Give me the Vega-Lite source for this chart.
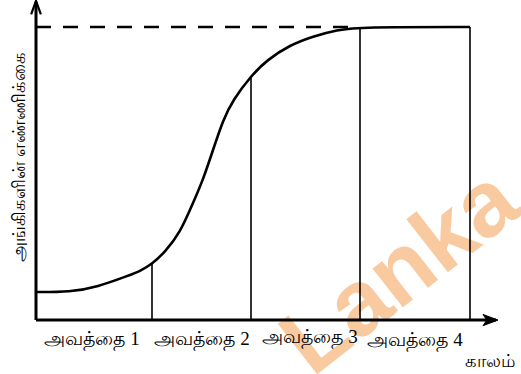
{
  "$schema": "https://vega.github.io/schema/vega-lite/v6.json",
  "width": 521,
  "height": 374,
  "padding": 0,
  "autosize": {"type": "none"},
  "background": "white",
  "config": {"view": {"stroke": null}},
  "datasets": {
    "curve": [
      {"t": 0, "N": 9.56}, {"t": 3.4, "N": 9.56}, {"t": 6.1, "N": 11.26}, {"t": 9.4, "N": 15.36},
      {"t": 10.4, "N": 16.72}, {"t": 11.6, "N": 19.11}, {"t": 12.9, "N": 23.21}, {"t": 14.4, "N": 29.69},
      {"t": 15.7, "N": 39.93}, {"t": 16.7, "N": 47.78}, {"t": 17.7, "N": 58.02}, {"t": 18.7, "N": 68.26},
      {"t": 19.7, "N": 75.09}, {"t": 21.5, "N": 83.3}, {"t": 23.1, "N": 88.74}, {"t": 25.4, "N": 93.86},
      {"t": 27.7, "N": 96.8}, {"t": 30.1, "N": 99.0}, {"t": 32.4, "N": 100}, {"t": 43.4, "N": 100}
    ],
    "stages": [
      {"t": 11.6, "N": 0, "N2": 19.11},
      {"t": 21.5, "N": 0, "N2": 83.3},
      {"t": 32.4, "N": 0, "N2": 100},
      {"t": 43.4, "N": 0, "N2": 100}
    ],
    "axes": [
      {"t": 0, "N": 0, "t2": 46, "N2": 0},
      {"t": 0, "N": 0, "t2": 0, "N2": 108.6}
    ],
    "labels": [
      {"t": 5.6, "N": -6.6, "label": "அவத்தை 1"},
      {"t": 16.6, "N": -6.6, "label": "அவத்தை 2"},
      {"t": 27.4, "N": -5.8, "label": "அவத்தை 3"},
      {"t": 37.9, "N": -6.8, "label": "அவத்தை 4"}
    ]
  },
  "layer": [
    {
      "data": {"values": [{"t": 36.5, "N": 16.0, "label": "Lanka"}]},
      "mark": {"type": "text", "font": "Liberation Sans", "fontWeight": "bold", "fontSize": 93, "angle": 322, "color": "#F9C9A0", "align": "center", "baseline": "middle"},
      "encoding": {
        "x": {"field": "t", "type": "quantitative", "scale": {"domain": [-3.6, 48.5], "nice": false, "zero": false}, "axis": null},
        "y": {"field": "N", "type": "quantitative", "scale": {"domain": [-18.4, 109.2], "nice": false, "zero": false}, "axis": null},
        "text": {"field": "label"}
      }
    },
    {
      "data": {"values": [{"t": 0, "N": 100, "t2": 32.4}]},
      "mark": {"type": "rule", "strokeWidth": 2.5, "strokeDash": [15, 12], "color": "black"},
      "encoding": {
        "x": {"field": "t", "type": "quantitative", "scale": {"domain": [-3.6, 48.5], "nice": false, "zero": false}, "axis": null},
        "x2": {"field": "t2"},
        "y": {"field": "N", "type": "quantitative", "scale": {"domain": [-18.4, 109.2], "nice": false, "zero": false}, "axis": null}
      }
    },
    {
      "data": {"name": "stages"},
      "mark": {"type": "rule", "strokeWidth": 1.6, "color": "black"},
      "encoding": {
        "x": {"field": "t", "type": "quantitative", "scale": {"domain": [-3.6, 48.5], "nice": false, "zero": false}, "axis": null},
        "y": {"field": "N", "type": "quantitative", "scale": {"domain": [-18.4, 109.2], "nice": false, "zero": false}, "axis": null},
        "y2": {"field": "N2"}
      }
    },
    {
      "data": {"name": "curve"},
      "mark": {"type": "line", "strokeWidth": 2.6, "color": "black", "interpolate": "basis"},
      "encoding": {
        "x": {"field": "t", "type": "quantitative", "scale": {"domain": [-3.6, 48.5], "nice": false, "zero": false}, "axis": null},
        "y": {"field": "N", "type": "quantitative", "scale": {"domain": [-18.4, 109.2], "nice": false, "zero": false}, "axis": null}
      }
    },
    {
      "data": {"name": "axes"},
      "mark": {"type": "rule", "strokeWidth": 3, "color": "black"},
      "encoding": {
        "x": {"field": "t", "type": "quantitative", "scale": {"domain": [-3.6, 48.5], "nice": false, "zero": false}, "axis": null},
        "x2": {"field": "t2"},
        "y": {"field": "N", "type": "quantitative", "scale": {"domain": [-18.4, 109.2], "nice": false, "zero": false}, "axis": null},
        "y2": {"field": "N2"}
      }
    },
    {
      "data": {"values": [{"t": 0, "N": 108.9}]},
      "mark": {"type": "point", "shape": "M -1.3 3.6 L 0 0 L 1.3 3.6", "size": 56, "filled": false, "stroke": "black", "strokeWidth": 2.2, "opacity": 1},
      "encoding": {
        "x": {"field": "t", "type": "quantitative", "scale": {"domain": [-3.6, 48.5], "nice": false, "zero": false}, "axis": null},
        "y": {"field": "N", "type": "quantitative", "scale": {"domain": [-18.4, 109.2], "nice": false, "zero": false}, "axis": null}
      }
    },
    {
      "data": {"values": [{"t": 46.2, "N": 0}]},
      "mark": {"type": "point", "shape": "M -4 -1.5 L 0 0 L -4 1.5 L -3 0 Z", "size": 56, "filled": true, "fill": "black", "stroke": "black", "strokeWidth": 1, "opacity": 1},
      "encoding": {
        "x": {"field": "t", "type": "quantitative", "scale": {"domain": [-3.6, 48.5], "nice": false, "zero": false}, "axis": null},
        "y": {"field": "N", "type": "quantitative", "scale": {"domain": [-18.4, 109.2], "nice": false, "zero": false}, "axis": null}
      }
    },
    {
      "data": {"name": "labels"},
      "mark": {"type": "text", "font": "Liberation Serif", "fontSize": 19, "color": "black", "align": "center", "baseline": "middle"},
      "encoding": {
        "x": {"field": "t", "type": "quantitative", "scale": {"domain": [-3.6, 48.5], "nice": false, "zero": false}, "axis": null},
        "y": {"field": "N", "type": "quantitative", "scale": {"domain": [-18.4, 109.2], "nice": false, "zero": false}, "axis": null},
        "text": {"field": "label"}
      }
    },
    {
      "data": {"values": [{"t": 45.4, "N": -14.3, "label": "காலம்"}]},
      "mark": {"type": "text", "font": "Liberation Sans", "fontSize": 18, "color": "black", "align": "center", "baseline": "middle"},
      "encoding": {
        "x": {"field": "t", "type": "quantitative", "scale": {"domain": [-3.6, 48.5], "nice": false, "zero": false}, "axis": null},
        "y": {"field": "N", "type": "quantitative", "scale": {"domain": [-18.4, 109.2], "nice": false, "zero": false}, "axis": null},
        "text": {"field": "label"}
      }
    },
    {
      "data": {"values": [{"t": -1.6, "N": 55.6, "label": "அங்கிகளின் எண்ணிக்கை"}]},
      "mark": {"type": "text", "font": "Liberation Sans", "fontSize": 18, "angle": 270, "color": "black", "align": "center", "baseline": "middle"},
      "encoding": {
        "x": {"field": "t", "type": "quantitative", "scale": {"domain": [-3.6, 48.5], "nice": false, "zero": false}, "axis": null},
        "y": {"field": "N", "type": "quantitative", "scale": {"domain": [-18.4, 109.2], "nice": false, "zero": false}, "axis": null},
        "text": {"field": "label"}
      }
    }
  ]
}
